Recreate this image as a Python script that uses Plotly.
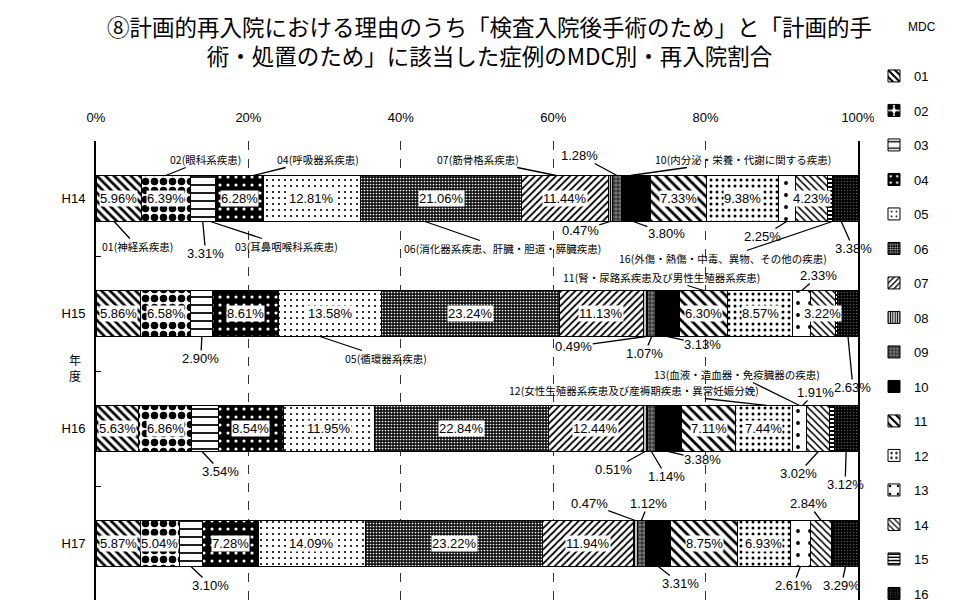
import plotly.graph_objects as go

# ---------------- data ----------------
years = ["H14", "H15", "H16", "H17"]
mdc_codes = ["01", "02", "03", "04", "05", "06", "07", "08",
             "09", "10", "11", "12", "13", "14", "15", "16"]
# share (%) of each MDC per year, MDC 01..16
h14 = [5.96, 6.39, 3.31, 6.28, 12.81, 21.06, 11.44, 0.47, 1.28, 3.80, 7.33, 9.38, 2.25, 4.23, 0.63, 3.38]
h15 = [5.86, 6.58, 2.90, 8.61, 13.58, 23.24, 11.13, 0.49, 1.07, 3.13, 6.30, 8.57, 2.33, 3.22, 0.36, 2.63]
h16 = [5.63, 6.86, 3.54, 8.54, 11.95, 22.84, 12.44, 0.51, 1.14, 3.38, 7.11, 7.44, 1.91, 3.02, 0.57, 3.12]
h17 = [5.87, 5.04, 3.10, 7.28, 14.09, 23.22, 11.94, 0.47, 1.12, 3.31, 8.75, 6.93, 2.61, 2.84, 0.14, 3.29]
rows = [h14, h15, h16, h17]

mdc_names = {
    "01": "01(神経系疾患)",
    "02": "02(眼科系疾患)",
    "03": "03(耳鼻咽喉科系疾患)",
    "04": "04(呼吸器系疾患)",
    "05": "05(循環器系疾患)",
    "06": "06(消化器系疾患、肝臓・胆道・膵臓疾患)",
    "07": "07(筋骨格系疾患)",
    "10": "10(内分泌・栄養・代謝に関する疾患)",
    "11": "11(腎・尿路系疾患及び男性生殖器系疾患)",
    "12": "12(女性生殖器系疾患及び産褥期疾患・異常妊娠分娩)",
    "13": "13(血液・造血器・免疫臓器の疾患)",
    "16": "16(外傷・熱傷・中毒、異物、その他の疾患)",
}

title_text = ("⑧計画的再入院における理由のうち「検査入院後手術のため」と「計画的手<br>"
              "術・処置のため」に該当した症例のMDC別・再入院割合")
tick_vals = [0, 20, 40, 60, 80, 100]
tick_text = ["0%", "20%", "40%", "60%", "80%", "100%"]

# segments labelled inside the bar, per year
inside = [
    ["01", "02", "04", "05", "06", "07", "11", "12", "14"],
    ["01", "02", "04", "05", "06", "07", "11", "12", "14"],
    ["01", "02", "04", "05", "06", "07", "11", "12"],
    ["01", "02", "04", "05", "06", "07", "11", "12"],
]
# leader-line labels: (year index, mdc, fraction along segment, edge, kind, ax, ay)
# kind "v" = value label, "n" = MDC name label
leaders = [
    (0, "02", 0.5, "top", "n", 40, -16),
    (0, "04", 0.8, "top", "n", 64, -16),
    (0, "07", 0.4, "top", "n", -78, -16),
    (0, "09", 0.5, "top", "v", -37, -20),
    (0, "10", 0.3, "top", "n", 113, -16),
    (0, "01", 0.4, "bot", "n", 23, 25),
    (0, "03", 0.5, "bot", "v", 3, 32),
    (0, "03", 0.8, "bot", "n", 76, 25),
    (0, "06", 0.4, "bot", "n", 78, 27),
    (0, "08", 0.5, "bot", "v", -30, 9),
    (0, "10", 0.4, "bot", "v", 33, 12),
    (0, "13", 0.5, "bot", "v", -24, 15),
    (0, "16", 0.0, "bot", "n", -109, 37),
    (0, "16", 0.35, "bot", "v", 12, 27),
    (1, "11", 0.5, "top", "n", -42, -13),
    (1, "13", 0.5, "top", "v", 17, -15),
    (1, "03", 0.5, "bot", "v", -1, 22),
    (1, "05", 0.4, "bot", "n", 66, 22),
    (1, "08", 0.5, "bot", "v", -72, 10),
    (1, "09", 0.5, "bot", "v", -7, 17),
    (1, "10", 0.5, "bot", "v", 35, 8),
    (1, "16", 0.5, "bot", "v", 5, 51),
    (2, "13", 0.5, "top", "n", -63, -31),
    (2, "13", 0.7, "top", "v", 13, -13),
    (2, "12", 0.55, "top", "n", -133, -15),
    (2, "03", 0.4, "bot", "v", 19, 20),
    (2, "08", 0.5, "bot", "v", -32, 18),
    (2, "09", 0.5, "bot", "v", 15, 25),
    (2, "10", 0.5, "bot", "v", 34, 8),
    (2, "14", 0.5, "bot", "v", -20, 22),
    (2, "16", 0.5, "bot", "v", -1, 33),
    (3, "08", 0.5, "top", "v", -46, -17),
    (3, "09", 0.5, "top", "v", 7, -17),
    (3, "14", 0.5, "top", "v", -13, -17),
    (3, "03", 0.5, "bot", "v", 20, 19),
    (3, "10", 0.5, "bot", "v", 22, 17),
    (3, "13", 0.5, "bot", "v", -7, 19),
    (3, "16", 0.5, "bot", "v", -4, 19),
]

# ---------------- styles ----------------
styles = {
    "01": dict(shape="\\", bg="white", fg="black", size=6, sol=0.45),
    "02": dict(shape=".", bg="white", fg="black", size=9, sol=0.55),
    "03": dict(shape="-", bg="white", fg="black", size=8, sol=0.22),
    "04": dict(shape=".", bg="black", fg="white", size=8, sol=0.12),
    "05": dict(shape=".", bg="white", fg="black", size=6, sol=0.1),
    "06": dict(shape=".", bg="#111111", fg="white", size=3, sol=0.25),
    "07": dict(shape="/", bg="white", fg="black", size=5, sol=0.35),
    "08": dict(shape="|", bg="white", fg="black", size=3, sol=0.5),
    "09": dict(shape="+", bg="#777777", fg="black", size=4, sol=0.3),
    "10": dict(shape="", bg="black", fg="black", size=6, sol=0.3),
    "11": dict(shape="\\", bg="white", fg="black", size=7, sol=0.4),
    "12": dict(shape=".", bg="white", fg="black", size=6, sol=0.2),
    "13": dict(shape=".", bg="white", fg="black", size=12, sol=0.08),
    "14": dict(shape="\\", bg="white", fg="black", size=5, sol=0.3),
    "15": dict(shape="-", bg="white", fg="black", size=4, sol=0.5),
    "16": dict(shape=".", bg="black", fg="#555555", size=3, sol=0.2),
}

L, R, T, B = 88, 850, 133, 593
def pxx(px):
    return (px - L) / (R - L)
def pxy(py):
    return (B - py) / (B - T)

FONT = "Liberation Sans, Arial, Noto Sans CJK JP"
JFONT = "Noto Sans CJK JP, sans-serif"
BAR_W = 0.4

fig = go.Figure()
for i, code in enumerate(mdc_codes):
    st = styles[code]
    marker = dict(color=st["bg"], line=dict(color="black", width=1))
    if st["shape"]:
        marker["pattern"] = dict(shape=st["shape"], bgcolor=st["bg"], fgcolor=st["fg"],
                                 size=st["size"], solidity=st["sol"], fillmode="replace")
    fig.add_trace(go.Bar(
        y=years, x=[r[i] for r in rows], name=code, orientation="h",
        marker=marker, width=BAR_W, legendgroup=code, hoverinfo="x+name",
    ))

annotations = []
for yi, r in enumerate(rows):
    starts = []
    acc = 0.0
    for v in r:
        starts.append(acc)
        acc += v
    for code in inside[yi]:
        k = mdc_codes.index(code)
        annotations.append(dict(
            x=starts[k] + r[k] / 2, y=yi, xref="x", yref="y", text=f"{r[k]:.2f}%",
            showarrow=False, bgcolor="white", borderpad=0,
            font=dict(family=FONT, size=13, color="black")))
for (yi, code, frac, edge, kind, ax, ay) in leaders:
    r = rows[yi]
    k = mdc_codes.index(code)
    start = sum(r[:k])
    xa = start + frac * r[k]
    ya = yi - BAR_W / 2 if edge == "top" else yi + BAR_W / 2
    if kind == "v":
        txt = f"{r[k]:.2f}%"
        fnt = dict(family=FONT, size=13, color="black")
    else:
        txt = mdc_names[code]
        fnt = dict(family=JFONT, size=10.5, color="black")
    annotations.append(dict(
        x=xa, y=ya, xref="x", yref="y", text=txt, showarrow=True, arrowhead=0,
        arrowwidth=1.3, arrowcolor="black", ax=ax, ay=ay, standoff=0,
        font=fnt, borderpad=0))

annotations.append(dict(x=pxx(481), y=pxy(0), xref="paper", yref="paper",
                        text=title_text, showarrow=False, xanchor="center", yanchor="top",
                        font=dict(family=JFONT, size=22.5, color="black")))
annotations.append(dict(x=pxx(930), y=pxy(10), xref="paper", yref="paper", text="MDC",
                        showarrow=False, font=dict(family=FONT, size=12, color="black")))
annotations.append(dict(x=pxx(59), y=pxy(359), xref="paper", yref="paper", text="年<br>度",
                        showarrow=False, font=dict(family=JFONT, size=12, color="black")))

fig.update_layout(
    width=955, height=600,
    margin=dict(l=L, r=955 - R, t=T, b=600 - B, autoexpand=False),
    barmode="stack",
    plot_bgcolor="white", paper_bgcolor="white",
    font=dict(family=FONT, size=13, color="black"),
    showlegend=True,
    legend=dict(x=pxx(866), xref="paper", y=1 - 53 / 600, yref="container",
                xanchor="left", yanchor="top", maxheight=600,
                traceorder="grouped", tracegroupgap=14.6,
                font=dict(family=FONT, size=13, color="black")),
    annotations=annotations,
)
fig.update_xaxes(side="top", range=[0, 100], tickvals=tick_vals, ticktext=tick_text,
                 showgrid=True, gridcolor="#333333", griddash="dash", gridwidth=1,
                 zeroline=False, showline=False, ticks="", ticklabelstandoff=15,
                 tickfont=dict(family=FONT, size=13), automargin=False)
fig.update_yaxes(autorange="reversed", showline=True, linecolor="black", linewidth=2,
                 mirror=True, ticks="inside", tickson="boundaries", ticklen=5,
                 tickcolor="black", showgrid=False, ticklabelstandoff=6,
                 tickfont=dict(family=FONT, size=13), automargin=False)

fig.write_html("out.html")
